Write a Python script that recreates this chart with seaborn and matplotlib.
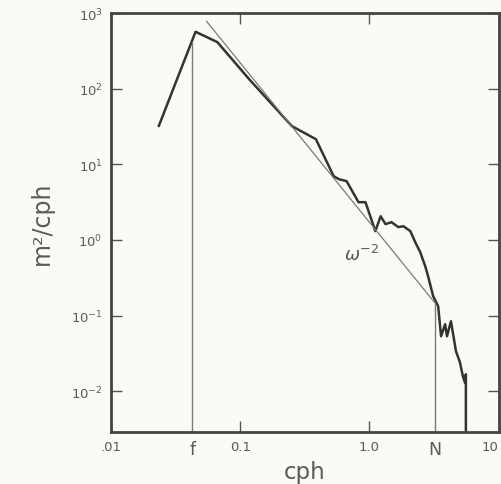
import matplotlib
matplotlib.use("Agg")
import matplotlib.pyplot as plt
import numpy as np
import pandas as pd
import seaborn as sns

# spectrum (cph, m^2/cph)
freq = [0.0234, 0.0451, 0.0665, 0.117, 0.251, 0.385, 0.528, 0.578, 0.665,
        0.822, 0.931, 1.11, 1.22, 1.33, 1.48, 1.67, 1.83, 2.07, 2.26, 2.47,
        2.70, 2.84, 3.11, 3.40, 3.58, 3.85, 3.98, 4.27, 4.67, 5.01, 5.28,
        5.47, 5.57, 5.57]
power = [32.0, 566, 413, 134, 32.0, 21.5, 6.98, 6.37, 6.0,
         3.16, 3.16, 1.31, 2.06, 1.62, 1.72, 1.48, 1.52, 1.31, 0.935, 0.69,
         0.45, 0.332, 0.181, 0.133, 0.0534, 0.0769, 0.0534, 0.0843, 0.0338,
         0.0242, 0.0158, 0.0131, 0.0168, 0.002]

# omega^-2 reference line endpoints
ref_freq = [0.0547, 3.22]
ref_power = [783, 0.146]

# inertial and buoyancy frequencies, with the level where their markers stop
f_freq, f_top = 0.0425, 420
n_freq, n_top = 3.22, 0.142
y_floor = 0.002

xticks = [0.01, 0.1, 1.0, 10]
xticklabels = [".01", "0.1", "1.0", "10"]
yticks = [1e-2, 1e-1, 1e0, 1e1, 1e2, 1e3]
yticklabels = ["$10^{-2}$", "$10^{-1}$", "$10^{0}$", "$10^{1}$", "$10^{2}$", "$10^{3}$"]

sns.set_style("ticks")
plt.rcParams["font.family"] = ["DejaVu Sans"]

bg = "#fbfaf4"
ink = "#333333"
thin = "#7a7a7a"
txt = "#5a5a5a"

fig = plt.figure(figsize=(5.01, 4.85), dpi=100, facecolor=bg)
ax = fig.add_axes([0.2216, 0.107, 0.7744, 0.864])
ax.set_facecolor(bg)

spec = pd.DataFrame({"freq": freq, "power": power})
sns.lineplot(data=spec, x="freq", y="power", sort=False, estimator=None,
             color=ink, lw=1.8, ax=ax)
sns.lineplot(x=ref_freq, y=ref_power, sort=False, estimator=None,
             color=thin, lw=0.9, ax=ax)
sns.lineplot(x=[f_freq, f_freq], y=[y_floor, f_top], sort=False, estimator=None,
             color=thin, lw=1.0, ax=ax)
sns.lineplot(x=[n_freq, n_freq], y=[y_floor, n_top], sort=False, estimator=None,
             color=thin, lw=1.0, ax=ax)

ax.set_xscale("log")
ax.set_yscale("log")
ax.set_xlim(0.01, 10.05)
ax.set_ylim(10 ** -2.54, 1000)

ax.set_xticks(xticks)
ax.set_xticklabels(xticklabels, fontsize=9.5, color=txt)
ax.get_xticklabels()[-1].set_ha("right")
ax.set_xticks([f_freq, n_freq], minor=True)
ax.set_xticklabels(["f", "N"], minor=True, fontsize=12.5, color=txt)
ax.set_yticks(yticks)
ax.set_yticklabels(yticklabels, fontsize=9.5, color=txt)
ax.yaxis.set_minor_locator(matplotlib.ticker.NullLocator())

ax.tick_params(which="major", direction="in", length=8, width=1.0,
               color="#555555", top=True, right=True, pad=6)
ax.tick_params(which="minor", length=0, pad=6)

for s in ax.spines.values():
    s.set_linewidth(2.0)
    s.set_color("#444444")

ax.text(0.63, 0.65, r"$\omega^{-2}$", fontsize=13, color=txt,
        ha="left", va="center")

ax.set_xlabel("cph", fontsize=16.5, color=txt, labelpad=1)
ax.set_ylabel("m²/cph", fontsize=17, color=txt, labelpad=12)

fig.savefig("out.png", dpi=100, facecolor=bg)
